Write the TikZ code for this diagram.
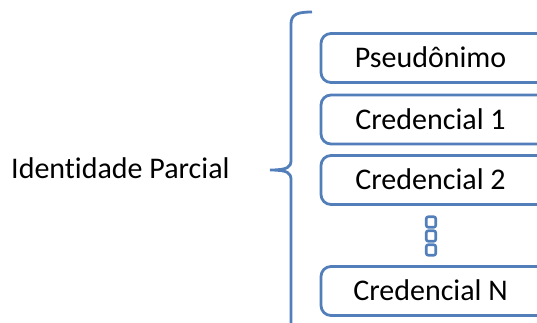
\documentclass[tikz,border=0pt]{standalone}
\usepackage{fontspec}
\setmainfont[Ligatures=NoCommon]{Carlito}
\definecolor{framblue}{RGB}{82,126,186}
\newcommand{\boxtext}[1]{\hspace*{-9pt}#1}
\begin{document}
\begin{tikzpicture}[x=1pt,y=-1pt,
  item/.style={draw=framblue, line width=2.8pt, rounded corners=10pt,
    minimum width=228pt, minimum height=49pt, inner sep=0pt,
    text height=19pt, text depth=0pt, font=\fontsize{30}{33}\selectfont},
  dot/.style={draw=framblue, line width=2.6pt, rounded corners=2pt,
    minimum width=9.5pt, minimum height=10.5pt, inner sep=0pt},
  brace/.style={draw=framblue, line width=2.8pt}]
\useasboundingbox (0,0) rectangle (537,322);

% stacked attribute boxes (their right ends run off the page)
\node[item] (pseud) at (435,58)    {\boxtext{Pseudônimo}};
\node[item] (cred1) at (435,119.5) {\boxtext{Credencial 1}};
\node[item] (cred2) at (435,180)   {\boxtext{Credencial 2}};
\node[item] (credN) at (435,291)   {\boxtext{Credencial N}};

% vertical ellipsis between the second credential and the last one
\node[dot] (d1) at (431,222) {};
\node[dot] (d2) at (431,236) {};
\node[dot] (d3) at (431,250) {};

% grouping label
\node[anchor=base west, inner sep=0pt, font=\fontsize{30}{33}\selectfont]
  (label) at (11,178) {Identidade Parcial};

% curly bracket that groups the boxes
\draw[brace] (312,12) .. controls (298,12) and (291,14) .. (291,24)
  -- (291,160) .. controls (291,167) and (288,170) .. (270,170)
  (270,170) .. controls (288,170) and (291,173) .. (291,180)
  -- (291,330);
\end{tikzpicture}
\end{document}
